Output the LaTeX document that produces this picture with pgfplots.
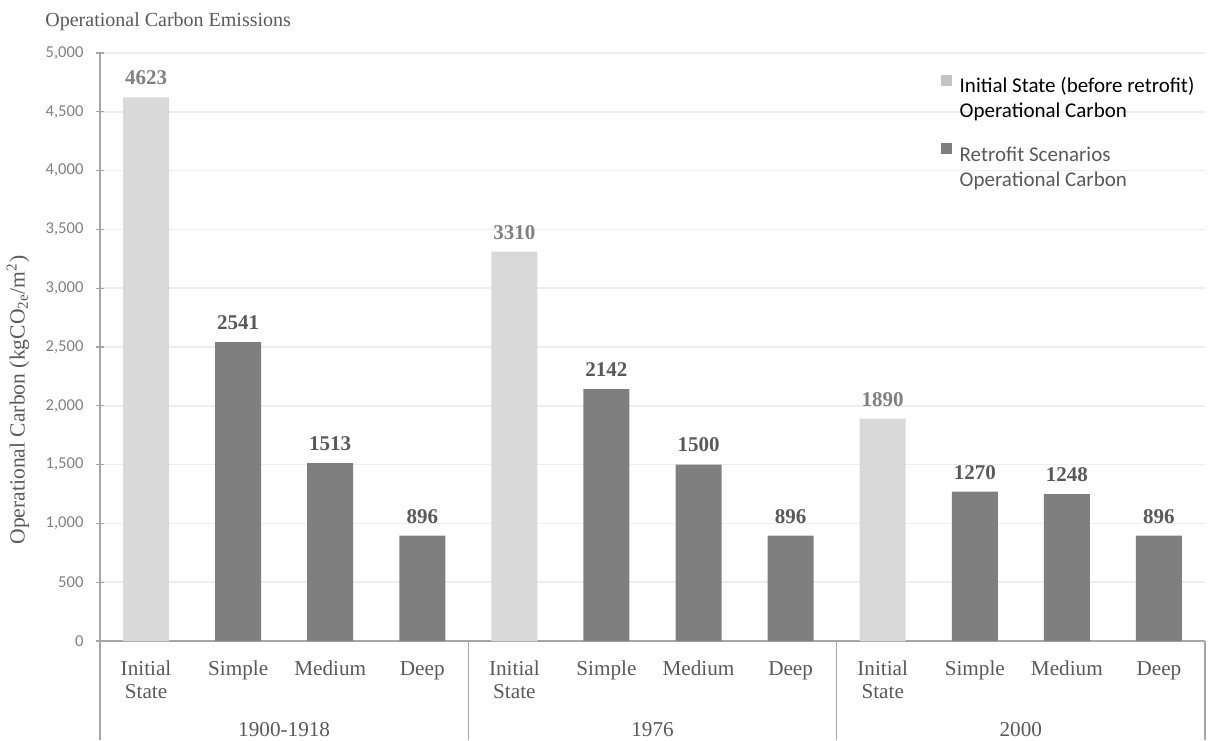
\documentclass[border=0pt]{standalone}
\usepackage{fontspec}
\setmainfont{Liberation Serif}
\newfontfamily\carlito{Carlito}
\usepackage{pgfplots}
\pgfplotsset{compat=1.18}

\definecolor{lightbar}{HTML}{D9D9D9}
\definecolor{darkbar}{HTML}{7F7F7F}
\definecolor{axisgray}{HTML}{A6A6A6}
\definecolor{gridgray}{HTML}{EEEEEE}
\definecolor{textgray}{HTML}{595959}
\definecolor{ticktext}{HTML}{808080}
\definecolor{legendchip}{HTML}{C4C4C4}

% two-line category name, hanging from its first baseline
\newcommand{\twoline}[2]{\begin{tabular}[t]{@{}c@{}}#1\\#2\end{tabular}}

\begin{document}
\begin{tikzpicture}
\useasboundingbox (0,0) rectangle (604pt,370pt);
\begin{axis}[
  at={(50pt,49.5pt)}, anchor=south west,
  scale only axis, width=552.5pt, height=294pt,
  xmin=-0.5, xmax=11.5, ymin=0, ymax=5000,
  clip=false,
  axis x line*=bottom, axis y line*=left,
  axis line style={-, draw=axisgray, line width=0.6pt},
  ybar, bar width=0.5, bar shift=0pt,
  xtick={0,...,11},
  xticklabels={{\twoline{Initial}{State}},Simple,Medium,Deep,{\twoline{Initial}{State}},Simple,Medium,Deep,{\twoline{Initial}{State}},Simple,Medium,Deep},
  xtick style={draw=none},
  xticklabel style={font=\fontsize{10.6pt}{11.6pt}\selectfont, text=textgray, anchor=base, yshift=-15pt},
  ytick={0,500,...,5000},
  ytick style={draw=axisgray, line width=0.6pt},
  tick align=center, major tick length=4.5pt,
  yticklabel style={font=\carlito\fontsize{8.3pt}{10pt}\selectfont, text=ticktext, xshift=-2.5pt},
  /pgf/number format/1000 sep={,},
  /pgf/number format/assume math mode=true,
  ymajorgrids, major grid style={draw=gridgray, line width=0.8pt},
  nodes near coords={\pgfmathprintnumber[1000 sep={},assume math mode=true]{\pgfplotspointmeta}},
  every node near coord/.append style={font=\bfseries\fontsize{10.5pt}{12pt}\selectfont, anchor=south, inner sep=0pt, yshift=6pt},
  legend style={at={(rel axis cs:0.755,0.977)}, anchor=north west, draw=none, fill=none,
    font=\carlito\fontsize{10.5pt}{12.6pt}\selectfont, row sep=20pt,
    /tikz/every odd column/.append style={column sep=2pt}},
  legend cell align=left,
]
% initial-state bars (before retrofit)
\addplot[fill=lightbar, draw=none,
  every node near coord/.append style={text=ticktext},
  legend image code/.code={\fill[legendchip] (0pt,-0.2pt) rectangle (5.5pt,5.3pt);}]
  coordinates {(0,4623) (4,3310) (8,1890)};
\addlegendentry{\begin{tabular}[t]{@{}l@{}}Initial State (before retrofit)\\Operational Carbon\end{tabular}}
% retrofit scenario bars
\addplot[fill=darkbar, draw=none,
  every node near coord/.append style={text=textgray},
  legend image code/.code={\fill[darkbar] (0pt,-0.2pt) rectangle (5.5pt,5.3pt);}]
  coordinates {(1,2541) (2,1513) (3,896) (5,2142) (6,1500) (7,896) (9,1270) (10,1248) (11,896)};
\addlegendentry{{\color{textgray}\begin{tabular}[t]{@{}l@{}}Retrofit Scenarios\\Operational Carbon\end{tabular}}}

% group separators below the category axis
\pgfplotsinvokeforeach{-0.5,3.5,7.5,11.5}{
  \draw[axisgray, line width=0.6pt] (axis cs:#1,0) -- ++(0pt,-49.5pt);
}
\node[font=\fontsize{10.6pt}{12pt}\selectfont, text=textgray, anchor=base, yshift=-47.5pt] at (axis cs:1.5,0) {1900-1918};
\node[font=\fontsize{10.6pt}{12pt}\selectfont, text=textgray, anchor=base, yshift=-47.5pt] at (axis cs:5.5,0) {1976};
\node[font=\fontsize{10.6pt}{12pt}\selectfont, text=textgray, anchor=base, yshift=-47.5pt] at (axis cs:9.5,0) {2000};
\end{axis}

\node[anchor=base west, font=\fontsize{10pt}{12pt}\selectfont, text=textgray, inner sep=0pt] at (22.5pt,356.5pt) {Operational Carbon Emissions};
\node[rotate=90, font=\fontsize{10.8pt}{13pt}\selectfont, text=textgray] at (9pt,170pt) {Operational Carbon (kgCO\textsubscript{2e}/m\textsuperscript{2})};
\end{tikzpicture}
\end{document}
